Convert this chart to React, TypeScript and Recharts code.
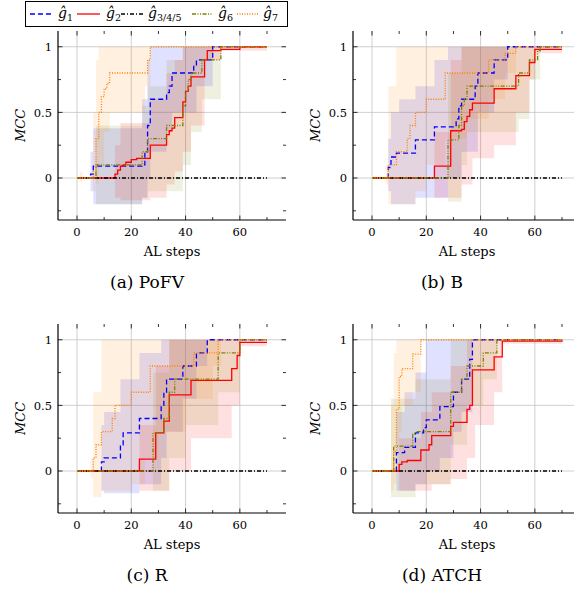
import { ComposedChart, Line, Area, XAxis, YAxis, CartesianGrid, Label } from "recharts";

const FONT = "DejaVu Serif";

const X_TICKS = [0, 10, 20, 30, 40, 50, 60, 70];
const X_LABELS = [0, 20, 40, 60];
const Y_TICKS = [-0.25, 0, 0.25, 0.5, 0.75, 1];
const Y_LABELS = [0, 0.5, 1];

// mean MCC per AL step, only the points where the step changes: [step, mcc]
const zeroG345 = [[0, 0], [70, 0]];

// (a) PoFV
const pofvG1 = [[0, 0], [5, 0.03], [6, 0.09], [24, 0.1], [25, 0.2], [26, 0.4], [27, 0.6], [33, 0.65], [34, 0.7], [35, 0.8], [43, 0.85], [44, 0.9], [50, 1], [70, 1]];
const pofvG2 = [[0, 0], [14, 0.03], [15, 0.06], [16, 0.09], [17, 0.1], [18, 0.12], [20, 0.14], [22, 0.15], [27, 0.25], [33, 0.33], [34, 0.36], [35, 0.38], [36, 0.46], [39, 0.58], [40, 0.66], [41, 0.7], [42, 0.77], [47, 0.9], [48, 0.97], [53, 0.98], [60, 1], [70, 1]];
const pofvG6 = [[0, 0], [7, 0.1], [24, 0.2], [26, 0.3], [33, 0.4], [39, 0.55], [40, 0.66], [41, 0.75], [42, 0.8], [46, 0.9], [53, 1], [70, 1]];
const pofvG7 = [[0, 0], [6, 0.05], [7, 0.3], [8, 0.5], [9, 0.62], [10, 0.68], [11, 0.72], [12, 0.8], [26, 0.9], [27, 1], [70, 1]];
// spread bands: [step, low, high]
const pofvG1Band = [[0, 0, 0], [5, -0.1, 0.2], [6, -0.2, 0.38], [24, -0.15, 0.6], [26, 0, 0.9], [27, 0.2, 1], [33, 0.35, 1], [35, 0.5, 1], [44, 0.7, 1], [50, 1, 1], [70, 1, 1]];
const pofvG2Band = [[0, 0, 0], [14, -0.15, 0.25], [16, -0.17, 0.42], [27, -0.15, 0.6], [33, -0.05, 0.8], [36, 0.05, 0.9], [39, 0.2, 1], [42, 0.4, 1], [47, 0.9, 1], [53, 0.97, 1], [70, 1, 1]];
const pofvG6Band = [[0, 0, 0], [7, -0.2, 0.4], [24, -0.15, 0.55], [26, -0.1, 0.7], [33, -0.1, 0.9], [39, 0.1, 1], [42, 0.35, 1], [46, 0.6, 1], [53, 1, 1], [70, 1, 1]];
const pofvG7Band = [[0, 0, 0], [1, -0.03, 0.05], [2, 0, 0], [6, -0.1, 0.5], [7, -0.05, 0.9], [8, 0.1, 1], [10, 0.35, 1], [12, 0.5, 1], [25, 0.7, 1], [27, 1, 1], [70, 1, 1]];

// (b) B
const bG1 = [[0, 0], [6, 0.08], [7, 0.16], [9, 0.19], [16, 0.29], [23, 0.39], [31, 0.45], [32, 0.55], [33, 0.6], [38, 0.7], [39, 0.8], [45, 0.9], [50, 1], [70, 1]];
const bG2 = [[0, 0], [23, 0.09], [29, 0.36], [33, 0.37], [34, 0.43], [35, 0.47], [36, 0.52], [37, 0.57], [45, 0.68], [53, 0.78], [58, 0.88], [60, 0.98], [70, 0.98]];
const bG6 = [[0, 0], [28, 0.29], [32, 0.4], [33, 0.55], [34, 0.6], [35, 0.7], [54, 0.8], [58, 0.9], [61, 0.97], [62, 1], [70, 1]];
const bG7 = [[0, 0], [6, 0.1], [9, 0.2], [13, 0.3], [14, 0.4], [16, 0.5], [20, 0.6], [27, 0.8], [43, 0.9], [49, 0.95], [53, 1], [70, 1]];
const bG1Band = [[0, 0, 0], [6, -0.1, 0.3], [7, -0.2, 0.5], [10, -0.2, 0.6], [16, -0.15, 0.7], [23, -0.15, 0.9], [28, 0, 1], [33, 0.2, 1], [39, 0.5, 1], [45, 0.75, 1], [50, 1, 1], [70, 1, 1]];
const bG2Band = [[0, 0, 0], [23, -0.15, 0.35], [29, -0.15, 0.9], [33, -0.05, 1], [37, 0.15, 1], [45, 0.25, 1], [53, 0.5, 1], [58, 0.75, 1], [60, 0.95, 1], [70, 0.96, 1]];
const bG6Band = [[0, 0, 0], [28, -0.18, 0.8], [33, 0.1, 1], [35, 0.35, 1], [54, 0.45, 1], [58, 0.75, 1], [62, 1, 1], [70, 1, 1]];
const bG7Band = [[0, 0, 0], [5, -0.05, 0.1], [6, -0.2, 0.7], [9, -0.2, 1], [16, -0.1, 1], [20, 0.1, 1], [27, 0.3, 1], [35, 0.45, 1], [43, 0.6, 1], [49, 0.8, 1], [53, 1, 1], [70, 1, 1]];

// (c) R
const cG1 = [[0, 0], [9, 0.07], [10, 0.1], [16, 0.2], [17, 0.29], [23, 0.4], [31, 0.5], [32, 0.6], [33, 0.7], [39, 0.8], [44, 0.9], [48, 1], [70, 1]];
const cG2 = [[0, 0], [23, 0.09], [29, 0.29], [32, 0.38], [34, 0.58], [42, 0.69], [57, 0.78], [59, 0.88], [60, 0.98], [70, 0.98]];
const cG6 = [[0, 0], [28, 0.29], [32, 0.4], [34, 0.6], [36, 0.7], [52, 0.9], [60, 1], [70, 1]];
const cG7 = [[0, 0], [6, 0.1], [7, 0.2], [9, 0.3], [13, 0.4], [14, 0.5], [20, 0.6], [27, 0.8], [43, 0.9], [52, 1], [70, 1]];
const cG1Band = [[0, 0, 0], [9, -0.15, 0.35], [10, -0.17, 0.45], [16, -0.17, 0.7], [23, -0.1, 0.9], [31, 0.1, 1], [33, 0.3, 1], [39, 0.55, 1], [44, 0.8, 1], [48, 1, 1], [70, 1, 1]];
const cG2Band = [[0, 0, 0], [23, -0.15, 0.35], [29, -0.15, 0.8], [34, 0, 1], [42, 0.25, 1], [57, 0.5, 1], [60, 0.95, 1], [70, 0.96, 1]];
const cG6Band = [[0, 0, 0], [28, -0.15, 0.75], [34, 0.1, 1], [40, 0.35, 1], [52, 0.6, 1], [60, 1, 1], [70, 1, 1]];
const cG7Band = [[0, 0, 0], [5, -0.05, 0.1], [6, -0.2, 0.6], [9, -0.15, 1], [20, -0.1, 1], [25, 0.1, 1], [30, 0.3, 1], [40, 0.55, 1], [50, 0.8, 1], [53, 1, 1], [70, 1, 1]];

// (d) ATCH
const dG1 = [[0, 0], [9, 0.14], [12, 0.18], [16, 0.29], [19, 0.33], [20, 0.39], [25, 0.49], [30, 0.6], [33, 0.7], [36, 0.85], [37, 1], [70, 1]];
const dG2 = [[0, 0], [10, 0.05], [11, 0.07], [13, 0.08], [18, 0.16], [21, 0.2], [22, 0.27], [29, 0.34], [30, 0.37], [35, 0.47], [36, 0.5], [37, 0.77], [45, 0.87], [48, 0.99], [70, 1]];
const dG6 = [[0, 0], [8, 0.19], [15, 0.28], [16, 0.3], [29, 0.6], [33, 0.7], [35, 0.8], [41, 0.9], [46, 1], [70, 1]];
const dG7 = [[0, 0], [8, 0.15], [9, 0.47], [10, 0.72], [11, 0.78], [15, 0.89], [18, 1], [70, 1]];
const dG1Band = [[0, 0, 0], [9, -0.15, 0.45], [12, -0.15, 0.6], [16, -0.1, 0.75], [20, 0, 1], [25, 0.1, 1], [30, 0.3, 1], [33, 0.45, 1], [37, 1, 1], [70, 1, 1]];
const dG2Band = [[0, 0, 0], [10, -0.15, 0.25], [18, -0.15, 0.45], [22, -0.1, 0.6], [29, -0.06, 0.8], [35, 0.1, 1], [38, 0.35, 1], [45, 0.6, 1], [48, 0.97, 1], [70, 0.99, 1]];
const dG6Band = [[0, 0, 0], [7, -0.2, 0.55], [16, -0.1, 0.7], [29, 0.2, 1], [35, 0.5, 1], [41, 0.7, 1], [46, 1, 1], [70, 1, 1]];
const dG7Band = [[0, 0, 0], [7, -0.15, 0.5], [8, -0.1, 0.9], [9, 0, 1], [10, 0.3, 1], [11, 0.5, 1], [15, 0.6, 1], [18, 1, 1], [70, 1, 1]];

const BLUE = "#0000ff";
const RED = "#ff0000";
const OLIVE = "#808000";
const ORANGE = "#ff8000";

// plot box inside each 290x300 chart
const PLOT_LEFT = 58;
const PLOT_RIGHT = 286;
const PLOT_TOP = 31;
const PLOT_BOTTOM = 220;

const toLine = (pts: number[][]) => pts.map(([x, y]) => ({ x, y }));
const toBand = (pts: number[][]) => pts.map(([x, lo, hi]) => ({ x, band: [lo, hi] }));

// pgfplots-style ticks: pointing inward, mirrored on the opposite side
const XTick = (props: any) => {
    const { x, y, payload } = props;
    const v = payload.value;
    const major = X_LABELS.includes(v);
    const len = major ? 4.5 : 3;
    return (
        <g>
            <line x1={x} x2={x} y1={PLOT_BOTTOM} y2={PLOT_BOTTOM - len} stroke="#000" strokeWidth={0.8} />
            <line x1={x} x2={x} y1={PLOT_TOP} y2={PLOT_TOP + len} stroke="#000" strokeWidth={0.8} />
            {major && (
                <text x={x} y={y} dy="0.71em" textAnchor="middle" fontFamily={FONT} fontSize={11.5} fill="#000">
                    {v}
                </text>
            )}
        </g>
    );
};

const YTick = (props: any) => {
    const { x, y, payload } = props;
    const v = payload.value;
    const major = Y_LABELS.includes(v);
    const len = major ? 4.5 : 3;
    return (
        <g>
            <line x1={PLOT_LEFT} x2={PLOT_LEFT + len} y1={y} y2={y} stroke="#000" strokeWidth={0.8} />
            <line x1={PLOT_RIGHT} x2={PLOT_RIGHT - len} y1={y} y2={y} stroke="#000" strokeWidth={0.8} />
            {major && (
                <text x={x} y={y} dy="0.36em" textAnchor="end" fontFamily={FONT} fontSize={11.5} fill="#000">
                    {v}
                </text>
            )}
        </g>
    );
};

type PanelProps = {
    left: number;
    top: number;
    g1: number[][];
    g2: number[][];
    g6: number[][];
    g7: number[][];
    g1Band: number[][];
    g2Band: number[][];
    g6Band: number[][];
    g7Band: number[][];
};

const AXIS_LINE = { stroke: "#000", strokeWidth: 1.2 };

const Panel = ({ left, top, g1, g2, g6, g7, g1Band, g2Band, g6Band, g7Band }: PanelProps) => {
    const bands = [
        { id: "b1", pts: g1Band, color: BLUE },
        { id: "b2", pts: g2Band, color: RED },
        { id: "b6", pts: g6Band, color: OLIVE },
        { id: "b7", pts: g7Band, color: ORANGE },
    ];
    const lines = [
        { id: "g1", pts: g1, color: BLUE, dash: "5 3" },
        { id: "g2", pts: g2, color: RED, dash: undefined },
        { id: "g345", pts: zeroG345, color: "#000", dash: "4 2 1 2" },
        { id: "g6", pts: g6, color: OLIVE, dash: "4 1.5 1 1.5 1 1.5" },
        { id: "g7", pts: g7, color: ORANGE, dash: "1 1.5" },
    ];
    return (
        <div style={{ position: "absolute", left, top }}>
            <ComposedChart width={290} height={300} margin={{ top: PLOT_TOP, right: 290 - PLOT_RIGHT, bottom: 40, left: 0 }}>
                <CartesianGrid
                    horizontalValues={Y_LABELS}
                    verticalValues={X_LABELS}
                    stroke="#c4c4c4"
                    strokeWidth={0.8}
                />
                <XAxis
                    type="number"
                    dataKey="x"
                    domain={[-7, 77]}
                    allowDataOverflow
                    ticks={X_TICKS}
                    interval={0}
                    tickLine={false}
                    tickSize={0}
                    tickMargin={8}
                    height={40}
                    axisLine={AXIS_LINE}
                    tick={XTick}
                >
                    <Label
                        value="AL steps"
                        position="insideBottom"
                        offset={4}
                        style={{ fill: "#000", fontSize: 13, fontFamily: FONT }}
                    />
                </XAxis>
                <XAxis
                    xAxisId="top"
                    orientation="top"
                    type="number"
                    domain={[-7, 77]}
                    allowDataOverflow
                    tick={false}
                    tickLine={false}
                    height={0}
                    axisLine={AXIS_LINE}
                />
                <YAxis
                    type="number"
                    domain={[-0.32, 1.12]}
                    allowDataOverflow
                    ticks={Y_TICKS}
                    interval={0}
                    tickLine={false}
                    tickSize={0}
                    tickMargin={6}
                    width={PLOT_LEFT}
                    axisLine={AXIS_LINE}
                    tick={YTick}
                />
                <YAxis
                    yAxisId="right"
                    orientation="right"
                    type="number"
                    domain={[-0.32, 1.12]}
                    allowDataOverflow
                    tick={false}
                    tickLine={false}
                    width={0}
                    axisLine={AXIS_LINE}
                />
                {bands.map((b) => (
                    <Area
                        key={b.id}
                        data={toBand(b.pts)}
                        dataKey="band"
                        type="stepAfter"
                        stroke="none"
                        fill={b.color}
                        fillOpacity={0.12}
                        isAnimationActive={false}
                        activeDot={false}
                    />
                ))}
                {lines.map((l) => (
                    <Line
                        key={l.id}
                        data={toLine(l.pts)}
                        dataKey="y"
                        type="stepAfter"
                        stroke={l.color}
                        strokeWidth={1.3}
                        strokeDasharray={l.dash}
                        dot={false}
                        activeDot={false}
                        isAnimationActive={false}
                    />
                ))}
            </ComposedChart>
        </div>
    );
};

const LEGEND = [
    { name: "1", color: BLUE, dash: "5 3", x1: 30, x2: 52, tx: 58 },
    { name: "2", color: RED, dash: undefined, x1: 77, x2: 100, tx: 106 },
    { name: "3/4/5", color: "#000", dash: "4 2 1 2", x1: 121, x2: 143, tx: 148 },
    { name: "6", color: OLIVE, dash: "4 1.5 1 1.5 1 1.5", x1: 192, x2: 213, tx: 218 },
    { name: "7", color: ORANGE, dash: "1 1.5", x1: 237, x2: 258, tx: 263 },
];

const CAPTIONS = [
    { text: "(a) PoFV", x: 147, y: 288 },
    { text: "(b) B", x: 442, y: 288 },
    { text: "(c) R", x: 147, y: 581 },
    { text: "(d) ATCH", x: 442, y: 581 },
];

const MCC_LABELS = [
    { x: 20, y: 125.5 },
    { x: 315, y: 125.5 },
    { x: 20, y: 418.5 },
    { x: 315, y: 418.5 },
];

export default function App() {
    return (
        <div
            style={{
                position: "absolute",
                left: 0,
                top: 0,
                width: 574,
                height: 597,
                overflow: "hidden",
                background: "#fff",
            }}
        >
            <Panel left={0} top={0} g1={pofvG1} g2={pofvG2} g6={pofvG6} g7={pofvG7}
                g1Band={pofvG1Band} g2Band={pofvG2Band} g6Band={pofvG6Band} g7Band={pofvG7Band} />
            <Panel left={295} top={0} g1={bG1} g2={bG2} g6={bG6} g7={bG7}
                g1Band={bG1Band} g2Band={bG2Band} g6Band={bG6Band} g7Band={bG7Band} />
            <Panel left={0} top={293} g1={cG1} g2={cG2} g6={cG6} g7={cG7}
                g1Band={cG1Band} g2Band={cG2Band} g6Band={cG6Band} g7Band={cG7Band} />
            <Panel left={295} top={293} g1={dG1} g2={dG2} g6={dG6} g7={dG7}
                g1Band={dG1Band} g2Band={dG2Band} g6Band={dG6Band} g7Band={dG7Band} />
            <svg
                width={574}
                height={597}
                style={{ position: "absolute", left: 0, top: 0, pointerEvents: "none" }}
            >
                <rect x={25.5} y={1.5} width={262} height={25} fill="#fff" stroke="#000" strokeWidth={1} />
                {LEGEND.map((e) => (
                    <g key={e.name}>
                        <line x1={e.x1} x2={e.x2} y1={14} y2={14} stroke={e.color} strokeWidth={1.3} strokeDasharray={e.dash} />
                        <text x={e.tx} y={18} fontFamily={FONT} fontSize={14} fill="#000">
                            <tspan fontStyle="italic">ĝ</tspan>
                            <tspan fontSize={9.5} dy={3}>{e.name}</tspan>
                        </text>
                    </g>
                ))}
                {MCC_LABELS.map((m, i) => (
                    <text
                        key={i}
                        x={m.x}
                        y={m.y}
                        transform={`rotate(-90 ${m.x} ${m.y})`}
                        textAnchor="middle"
                        dominantBaseline="central"
                        fontFamily={FONT}
                        fontStyle="italic"
                        fontSize={13}
                        fill="#000"
                    >
                        MCC
                    </text>
                ))}
                {CAPTIONS.map((c) => (
                    <text key={c.text} x={c.x} y={c.y} textAnchor="middle" fontFamily={FONT} fontSize={17} fill="#000">
                        {c.text}
                    </text>
                ))}
            </svg>
        </div>
    );
}
